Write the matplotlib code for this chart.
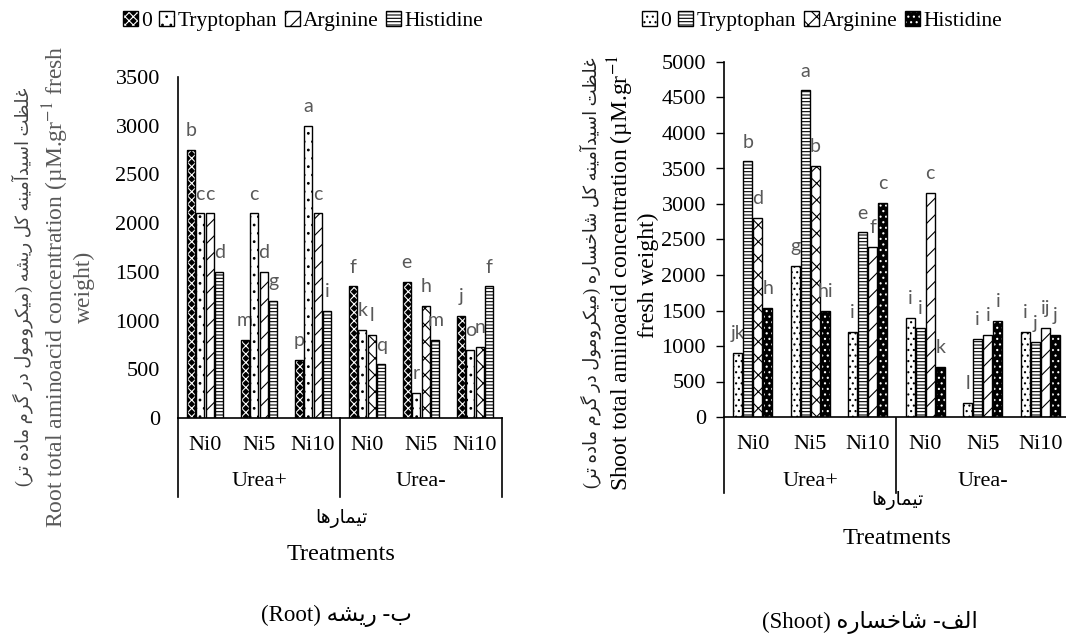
import numpy as np
import matplotlib
matplotlib.use("Agg")
import matplotlib.pyplot as plt
import matplotlib.transforms as mtransforms
from matplotlib.patches import Patch
from matplotlib.lines import Line2D

# ---- data ----
nickel = ['Ni0', 'Ni5', 'Ni10', 'Ni0', 'Ni5', 'Ni10']
groups = ['Urea+', 'Urea-']
series = ['0', 'Tryptophan', 'Arginine', 'Histidine']

root_0 = [2750, 800, 600, 1350, 1400, 1050]
root_trp = [2100, 2100, 3000, 900, 260, 700]
root_arg = [2100, 1500, 2100, 850, 1150, 730]
root_his = [1500, 1200, 1100, 550, 800, 1350]
root_let_0 = ['b', 'm', 'p', 'f', 'e', 'j']
root_let_trp = ['c', 'c', 'a', 'k', 'r', 'o']
root_let_arg = ['c', 'd', 'c', 'l', 'h', 'n']
root_let_his = ['d', 'g', 'i', 'q', 'm', 'f']

shoot_0 = [900, 2130, 1200, 1400, 200, 1200]
shoot_trp = [3600, 4600, 2600, 1250, 1100, 1050]
shoot_arg = [2800, 3530, 2400, 3150, 1150, 1250]
shoot_his = [1530, 1500, 3020, 700, 1350, 1150]
shoot_let_0 = ['jk', 'g', 'i', 'i', 'l', 'i']
shoot_let_trp = ['b', 'a', 'e', 'i', 'i', 'j']
shoot_let_arg = ['d', 'b', 'f', 'c', 'i', 'ij']
shoot_let_his = ['h', 'hi', 'c', 'k', 'i', 'j']

root_fa = "غلظت اسیدآمینه کل ریشه (میکرومول در گرم ماده تر)"
shoot_fa = "غلظت اسیدآمینه کل شاخساره (میکرومول در گرم ماده تر)"
treat_fa = "تیمارها"
root_cap_fa = "ب- ریشه"
shoot_cap_fa = "الف- شاخساره"

# ---- minimal persian shaping (matplotlib has no bidi/joining) ----
FORMS = {
    'ا': ('\uFE8D', '\uFE8E', None, None),
    'آ': ('\uFE81', '\uFE82', None, None),
    'د': ('\uFEA9', '\uFEAA', None, None),
    'ر': ('\uFEAD', '\uFEAE', None, None),
    'و': ('\uFEED', '\uFEEE', None, None),
    'ب': ('\uFE8F', '\uFE90', '\uFE91', '\uFE92'),
    'ت': ('\uFE95', '\uFE96', '\uFE97', '\uFE98'),
    'خ': ('\uFEA5', '\uFEA6', '\uFEA7', '\uFEA8'),
    'س': ('\uFEB1', '\uFEB2', '\uFEB3', '\uFEB4'),
    'ش': ('\uFEB5', '\uFEB6', '\uFEB7', '\uFEB8'),
    'ظ': ('\uFEC5', '\uFEC6', '\uFEC7', '\uFEC8'),
    'غ': ('\uFECD', '\uFECE', '\uFECF', '\uFED0'),
    'ف': ('\uFED1', '\uFED2', '\uFED3', '\uFED4'),
    'ل': ('\uFEDD', '\uFEDE', '\uFEDF', '\uFEE0'),
    'م': ('\uFEE1', '\uFEE2', '\uFEE3', '\uFEE4'),
    'ن': ('\uFEE5', '\uFEE6', '\uFEE7', '\uFEE8'),
    'ه': ('\uFEE9', '\uFEEA', '\uFEEB', '\uFEEC'),
    'ی': ('\uFBFC', '\uFBFD', '\uFBFE', '\uFBFF'),
    'ک': ('\uFB8E', '\uFB8F', '\uFB90', '\uFB91'),
    'گ': ('\uFB92', '\uFB93', '\uFB94', '\uFB95'),
}


def shape(text):
    out = []
    for i, c in enumerate(text):
        if c not in FORMS:
            out.append(c)
            continue
        prev = text[i - 1] if i > 0 else ''
        nxt = text[i + 1] if i + 1 < len(text) else ''
        iso, fin, ini, med = FORMS[c]
        jp = prev in FORMS and FORMS[prev][2] is not None
        jn = nxt in FORMS and ini is not None
        if jp and jn:
            out.append(med)
        elif jp:
            out.append(fin)
        elif jn:
            out.append(ini)
        else:
            out.append(iso)
    return ''.join(out)


def rtl(text):
    return shape(text)[::-1].translate(str.maketrans('()', ')('))


plt.rcParams['font.family'] = ['Liberation Serif', 'DejaVu Sans']
plt.rcParams['mathtext.fontset'] = 'stix'
plt.rcParams['hatch.linewidth'] = 0.8

W, H = 1066, 635
fig = plt.figure(figsize=(W / 100, H / 100), dpi=100)


def fx(px):
    return px / W


def fy(py):
    return 1 - py / H


ax1 = fig.add_axes([fx(178), fy(418), fx(502) - fx(178), fy(77) - fy(418)])
ax2 = fig.add_axes([fx(724), fy(417), fx(1069) - fx(724), fy(62) - fy(417)])

root_styles = [
    dict(face='black', hc='white', hatch=['xxxx'] * 6),
    dict(face='white', hc='black', hatch=['..'] * 6),
    dict(face='white', hc='black', hatch=['//'] * 3 + ['xx'] * 3),
    dict(face='white', hc='black', hatch=['-----'] * 6),
]
shoot_styles = [
    dict(face='white', hc='black', hatch=['...'] * 6),
    dict(face='white', hc='black', hatch=['-----'] * 6),
    dict(face='white', hc='black', hatch=['xx', 'xx', '//', '//', '//', '//']),
    dict(face='black', hc='white', hatch=['...'] * 6),
]

TXT = 16
LBL_COLOR = '#595959'


def draw_panel(ax, values, letters, styles, ymax, width, ticklen, bottom_px):
    x = np.arange(len(nickel))
    pitch = 0.175
    for k, (vals, lets, st) in enumerate(zip(values, letters, styles)):
        pos = x + (k - 1.5) * pitch
        for i in range(len(nickel)):
            ax.bar(pos[i], vals[i], width, color=st['face'], edgecolor=st['hc'],
                   hatch=st['hatch'][i], linewidth=0, zorder=2)
            ax.bar(pos[i], vals[i], width, fill=False, edgecolor='black',
                   linewidth=1.0, zorder=3)
            ax.annotate(lets[i], (pos[i], vals[i]), xytext=(0, 10),
                        textcoords='offset points', ha='center', va='baseline',
                        family='Lato', fontsize=14, color=LBL_COLOR)
    ax.set_xlim(-0.5, len(nickel) - 0.5)
    ax.set_ylim(0, ymax)
    ax.set_yticks(np.arange(0, ymax + 1, 500))
    ax.set_xticks(x, nickel)
    ax.tick_params(axis='x', length=0, pad=13, labelsize=TXT)
    ax.tick_params(axis='y', length=ticklen, width=1, direction='out',
                   pad=13 - ticklen, labelsize=TXT)
    for s in ['top', 'right']:
        ax.spines[s].set_visible(False)
    for s in ['left', 'bottom']:
        ax.spines[s].set_linewidth(1.2)
    trans = mtransforms.blended_transform_factory(ax.transData, fig.transFigure)
    for xb in [-0.5, 2.5, 5.5]:
        ax.add_line(Line2D([xb, xb], [fy(418), fy(bottom_px)], transform=trans,
                           color='black', linewidth=1.2, clip_on=False))
    for g, name in enumerate(groups):
        ax.text(1 + 3 * g, fy(482), name, transform=trans, ha='center',
                va='center', fontsize=TXT)


draw_panel(ax1, [root_0, root_trp, root_arg, root_his],
           [root_let_0, root_let_trp, root_let_arg, root_let_his],
           root_styles, 3500, 0.155, 0, 497)
draw_panel(ax2, [shoot_0, shoot_trp, shoot_arg, shoot_his],
           [shoot_let_0, shoot_let_trp, shoot_let_arg, shoot_let_his],
           shoot_styles, 5000, 0.16, 6, 493)


def legend_handles(styles):
    hs = []
    for st in styles:
        hs.append((Patch(facecolor=st['face'], edgecolor=st['hc'],
                         hatch=st['hatch'][0], linewidth=0),
                   Patch(fill=False, edgecolor='black', linewidth=1.0)))
    return hs


for styles, cx in [(root_styles, 303), (shoot_styles, 822)]:
    fig.legend(legend_handles(styles), series, loc='center',
               bbox_to_anchor=(fx(cx), fy(21)), ncol=4, frameon=False,
               fontsize=15.5, handlelength=0.7, handleheight=0.7,
               handletextpad=0.15, columnspacing=0.35, borderpad=0)

# y labels
fig.text(fx(22), fy(287), rtl(root_fa), rotation=90, ha='center', va='center',
         fontsize=13, color='#444444')
fig.text(fx(56), fy(287), r'Root total aminoacid concentration (µM.gr$^{-1}$ fresh',
         rotation=90, ha='center', va='center', fontsize=17, color=LBL_COLOR)
fig.text(fx(84), fy(287), 'weight)', rotation=90, ha='center', va='center',
         fontsize=17, color=LBL_COLOR)

fig.text(fx(590), fy(273), rtl(shoot_fa), rotation=90, ha='center', va='center',
         fontsize=13, color='#222222')
fig.text(fx(621), fy(273), r'Shoot total aminoacid concentration (µM.gr$^{-1}$',
         rotation=90, ha='center', va='center', fontsize=17, color='black')
fig.text(fx(648), fy(275), 'fresh weight)', rotation=90, ha='center', va='center',
         fontsize=17, color='black')

# x titles and captions
fig.text(fx(341), fy(518), rtl(treat_fa), ha='center', va='center', fontsize=13.5)
fig.text(fx(341), fy(555), 'Treatments', ha='center', va='center', fontsize=17.5)
fig.text(fx(336), fy(616), '(Root) ' + rtl(root_cap_fa), ha='center', va='center',
         fontsize=16.5)

fig.text(fx(897), fy(500), rtl(treat_fa), ha='center', va='center', fontsize=13.5)
fig.text(fx(897), fy(538), 'Treatments', ha='center', va='center', fontsize=17.5)
fig.text(fx(870), fy(622), '(Shoot) ' + rtl(shoot_cap_fa), ha='center',
         va='center', fontsize=16.5)

fig.savefig('out.png', dpi=100)
